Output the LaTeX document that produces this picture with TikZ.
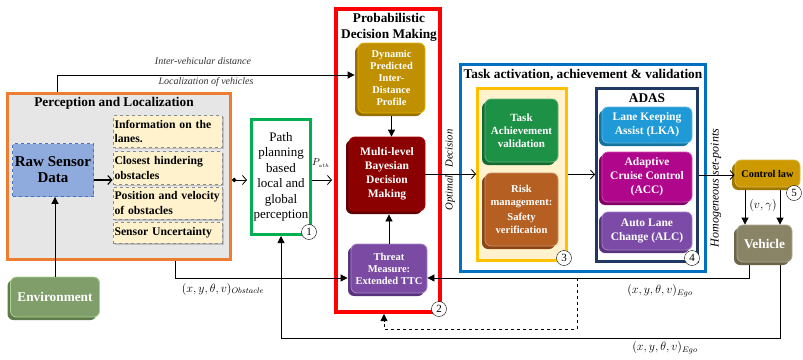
\documentclass[tikz,border=0pt]{standalone}
\usepackage{fontspec}
\setmainfont{Liberation Serif}
\usetikzlibrary{arrows.meta,shadows,calc}
\definecolor{orng}{HTML}{ED7D31}
\definecolor{panel}{HTML}{E7E6E6}
\definecolor{rawfill}{HTML}{8FAADC}
\definecolor{rawdraw}{HTML}{4472C4}
\definecolor{cream}{HTML}{FFF2CC}
\definecolor{pgreen}{HTML}{00B050}
\definecolor{dgold}{HTML}{BF9000}
\definecolor{dgoldS}{HTML}{967000}
\definecolor{dgoldL}{HTML}{E6B000}
\definecolor{bred}{HTML}{8B0000}
\definecolor{bredS}{HTML}{600000}
\definecolor{bredL}{HTML}{B00000}
\definecolor{thr}{HTML}{7B4BA4}
\definecolor{thrS}{HTML}{5A337E}
\definecolor{thrL}{HTML}{A587C8}
\definecolor{tblue}{HTML}{0070C0}
\definecolor{tgold}{HTML}{FFC000}
\definecolor{tgreen}{HTML}{1D9146}
\definecolor{tgreenS}{HTML}{136B32}
\definecolor{tbrown}{HTML}{B55F22}
\definecolor{tbrownS}{HTML}{8A4515}
\definecolor{navy}{HTML}{203864}
\definecolor{lka}{HTML}{1F9AD6}
\definecolor{lkaS}{HTML}{14739F}
\definecolor{acc}{HTML}{B0068C}
\definecolor{accS}{HTML}{820066}
\definecolor{alc}{HTML}{7B4BA7}
\definecolor{alcS}{HTML}{5A347D}
\definecolor{ctl}{HTML}{CC9900}
\definecolor{ctlS}{HTML}{9E7600}
\definecolor{veh}{HTML}{8A8466}
\definecolor{vehS}{HTML}{6A654C}
\definecolor{envc}{HTML}{7F9E69}
\definecolor{envS}{HTML}{5F7B4C}
\definecolor{envL}{HTML}{A9D18E}
\begin{document}
\begin{tikzpicture}[x=1pt,y=-1pt,
  box3d/.style n args={3}{rounded corners=6pt, fill=#1, draw=#2, line width=0.8pt,
     general shadow={fill=#3, shadow xshift=-3pt, shadow yshift=-3pt},
     text=white, align=center, inner sep=1pt},
  bigframe/.style={draw=#1, line width=3pt, inner sep=0pt},
  ttl/.style={font=\fontsize{13.3}{16}\selectfont\bfseries, align=center},
  info/.style={fill=cream, draw=black!45, dashed, line width=0.5pt,
     general shadow={fill=black!25, shadow xshift=1.5pt, shadow yshift=-1.5pt},
     align=left, text width=106pt, inner sep=1.5pt,
     font=\fontsize{11.7}{14.5}\selectfont\bfseries},
  cnum/.style={circle, draw, fill=white, inner sep=0pt, minimum size=15pt, font=\fontsize{11}{11}\selectfont},
  ln/.style={line width=0.8pt},
  farr/.style={ln, -{Triangle[length=7pt,width=7pt]}},
  oarr/.style={ln, -{Straight Barb[length=4pt,width=9pt]}},
  lbl/.style={font=\fontsize{10}{12}\selectfont\itshape, text=black!80},
  mlbl/.style={font=\fontsize{12}{14}\selectfont},
]
\useasboundingbox (0,0) rectangle (803,359);
% helper levels
\coordinate (yA) at (0,180);
\coordinate (ytop) at (0,75);
\coordinate (yego) at (0,278);
\coordinate (ybot) at (0,338);
\coordinate (dbot) at (0,329);
\coordinate (xobs) at (175,0);
\coordinate (xtop) at (57,0);
\coordinate (dsplit) at (577,278);

% Perception and Localization
\node[bigframe=orng, fill=panel, minimum width=223pt, minimum height=166pt] (perc) at (119,176.5) {};
\node[ttl] (percT) at (114,103) {Perception and Localization};
\node[draw=rawdraw, dashed, fill=rawfill, line width=0.8pt, minimum width=81pt, minimum height=53pt,
      font=\fontsize{15}{16}\selectfont\bfseries, align=center, inner sep=0pt] (raw) at (53,170) {Raw Sensor\\Data};
\node[info, minimum height=32pt] (inf1) at (167.5,131.5) {Information on the\\lanes.};
\node[info, minimum height=33pt] (inf2) at (167.5,168) {Closest hindering\\obstacles};
\node[info, minimum height=32pt] (inf3) at (167.5,203) {Position and velocity\\of obstacles};
\node[info, minimum height=21pt] (inf4) at (167.5,232.5) {Sensor Uncertainty};

% Environment
\node[box3d={envc}{envL}{envS}, minimum width=89pt, minimum height=40pt,
      font=\fontsize{13.3}{16}\selectfont\bfseries] (envn) at (55,297) {Environment};

% Path planning
\node[bigframe=pgreen, fill=white, minimum width=59pt, minimum height=115pt, align=center,
      font=\fontsize{13}{15.5}\selectfont] (path) at (281,177) {Path\\planning\\based\\local and\\global\\perception};
\node[cnum] (c1) at (309,232) {1};

% Probabilistic decision making
\node[bigframe=red, line width=4pt, minimum width=104pt, minimum height=303pt] (pdm) at (388,160.5) {};
\node[ttl] (pdmT) at (389,27) {Probabilistic\\Decision Making};
\node[box3d={dgold}{dgoldL}{dgoldS}, minimum width=67pt, minimum height=70pt,
      font=\fontsize{10.4}{12}\selectfont\bfseries] (dyn) at (391.5,78) {Dynamic\\Predicted\\Inter-\\Distance\\Profile};
\node[box3d={bred}{bredL}{bredS}, minimum width=76pt, minimum height=74pt,
      font=\fontsize{11.5}{14}\selectfont\bfseries] (multi) at (387,174) {Multi-level\\Bayesian\\Decision\\Making};
\node[box3d={thr}{thrL}{thrS}, minimum width=76pt, minimum height=49pt,
      font=\fontsize{10.5}{12}\selectfont\bfseries] (thr) at (389,268.5) {Threat\\Measure:\\Extended TTC};
\node[cnum] (c2) at (439,309) {2};

% Task activation
\node[bigframe=tblue, minimum width=245pt, minimum height=207pt] (task) at (583,168) {};
\node[ttl] (taskT) at (583,75) {Task activation, achievement \& validation};
\node[bigframe=tgold, fill=cream, minimum width=89pt, minimum height=172pt] (ybox) at (522,174.5) {};
\node[box3d={tgreen}{tgreen!70!white}{tgreenS}, minimum width=73pt, minimum height=63pt,
      font=\fontsize{11}{13}\selectfont\bfseries] (tav) at (521.5,130.5) {Task\\Achievement\\validation};
\node[box3d={tbrown}{tbrown!70!white}{tbrownS}, minimum width=73pt, minimum height=73pt,
      font=\fontsize{10.6}{12.5}\selectfont\bfseries] (risk) at (521.5,209.5) {Risk\\management:\\[3pt]Safety\\verification};
\node[cnum] (c3) at (564,258) {3};

\node[bigframe=navy, fill=white, minimum width=101pt, minimum height=173pt] (adas) at (647,175) {};
\node[ttl] (adasT) at (647,98) {ADAS};
\node[box3d={lka}{lka!70!white}{lkaS}, minimum width=90pt, minimum height=36pt,
      font=\fontsize{11.5}{14}\selectfont\bfseries] (lkan) at (647,125) {Lane Keeping\\Assist (LKA)};
\node[box3d={acc}{acc!70!white}{accS}, minimum width=90pt, minimum height=50pt,
      font=\fontsize{11.5}{14}\selectfont\bfseries] (accn) at (647,177) {Adaptive\\Cruise Control\\(ACC)};
\node[box3d={alc}{alc!70!white}{alcS}, minimum width=90pt, minimum height=38pt,
      font=\fontsize{11.5}{14}\selectfont\bfseries] (alcn) at (647,231) {Auto Lane\\Change (ALC)};
\node[cnum] (c4) at (692,258) {4};

% Control and vehicle
\node[box3d={ctl}{ctl!70!white}{ctlS}, minimum width=65pt, minimum height=27pt, text=black,
      font=\fontsize{10.3}{12}\selectfont\bfseries] (ctln) at (767.5,173.5) {Control law};
\node[cnum] (c5) at (794,193) {5};
\node[box3d={veh}{veh!70!white}{vehS}, minimum width=55pt, minimum height=37pt,
      font=\fontsize{13.3}{16}\selectfont\bfseries] (vehn) at (764.5,243.5) {Vehicle};

% Labels
\node[lbl] (l1) at (203,61) {Inter-vehicular distance};
\node[lbl] (l2) at (206,82) {Localization of vehicles};
\node[font=\fontsize{10.7}{12}\selectfont\itshape, rotate=90] (optd) at (450,170) {Optimal\hspace{8pt}Decision};
\node[font=\fontsize{12}{14}\selectfont\itshape, rotate=90] (hsp) at (716,188) {Homogeneous set-points};
\node[font=\fontsize{10}{12}\selectfont] (pathl) at (321,163) {$P_{\scriptscriptstyle ath}$};
\node[mlbl] (obsl) at (223,289) {$(x,y,\theta,v)_{Obstacle}$};
\node[mlbl] (egoA) at (660,291) {$(x,y,\theta,v)_{Ego}$};
\node[mlbl] (egoB) at (665,348) {$(x,y,\theta,v)_{Ego}$};
\node[mlbl] (vg) at (763,205) {$(v,\gamma)$};

% connector anchor points
\coordinate (cA) at ($(ctln.south)+(-22.5,3)$);
\coordinate (cB) at ($(ctln.south)+(12.5,3)$);
\coordinate (vL) at ($(vehn.south)+(-15.5,3)$);
\coordinate (vR) at ($(vehn.south)+(15.5,3)$);
\coordinate (thrIn) at ($(thr.west |- yego)+(-3,0)$);
\coordinate (pdmIn) at ($(pdm.south)+(-4,0)$);
\coordinate (rawOut) at (94,180);
\coordinate (infIn) at (112.5,180);

% Connectors
\draw[farr] (perc.north -| xtop) |- ([xshift=-3pt]dyn.west |- ytop);
\draw[draw=black, line width=1.1pt, -{Straight Barb[length=4pt,width=9pt]}] (rawOut) -- (infIn);
\draw[ln, {Circle[length=4.5pt]}-{Straight Barb[length=4pt,width=9pt]}, shorten >=3pt] (perc.east |- yA) -- (path.west |- yA);
\draw[oarr, shorten >=2pt] (path.east |- yA) -- (pdm.west |- yA);
\draw[farr] (envn.north) -- (envn.north |- raw.south);
\draw[farr] ([yshift=-3pt]dyn.south) -- (dyn.south |- multi.north);
\draw[farr] (thr.north) -- ($(thr.north |- multi.south)+(0,3)$);
\draw[oarr] (multi.east) -- (multi.east -| ybox.west);
\draw[oarr] (ybox.east) -- (ybox.east -| adas.west);
\draw[oarr] (adas.east) -- (adas.east -| ctln.west);
\draw[farr] (cA) -- (cA |- vehn.north);
\draw[farr] (cB) -- (cB |- vehn.north);
\draw[farr] (perc.south -| xobs) |- (thrIn);
\draw[farr] (vL) |- (thr.east |- yego);
\draw[farr] (vR) -- (vR |- ybot) -| (path.south);
\draw[farr, dashed] (dsplit) -- (dsplit |- dbot) -| (pdmIn);
\end{tikzpicture}
\end{document}
